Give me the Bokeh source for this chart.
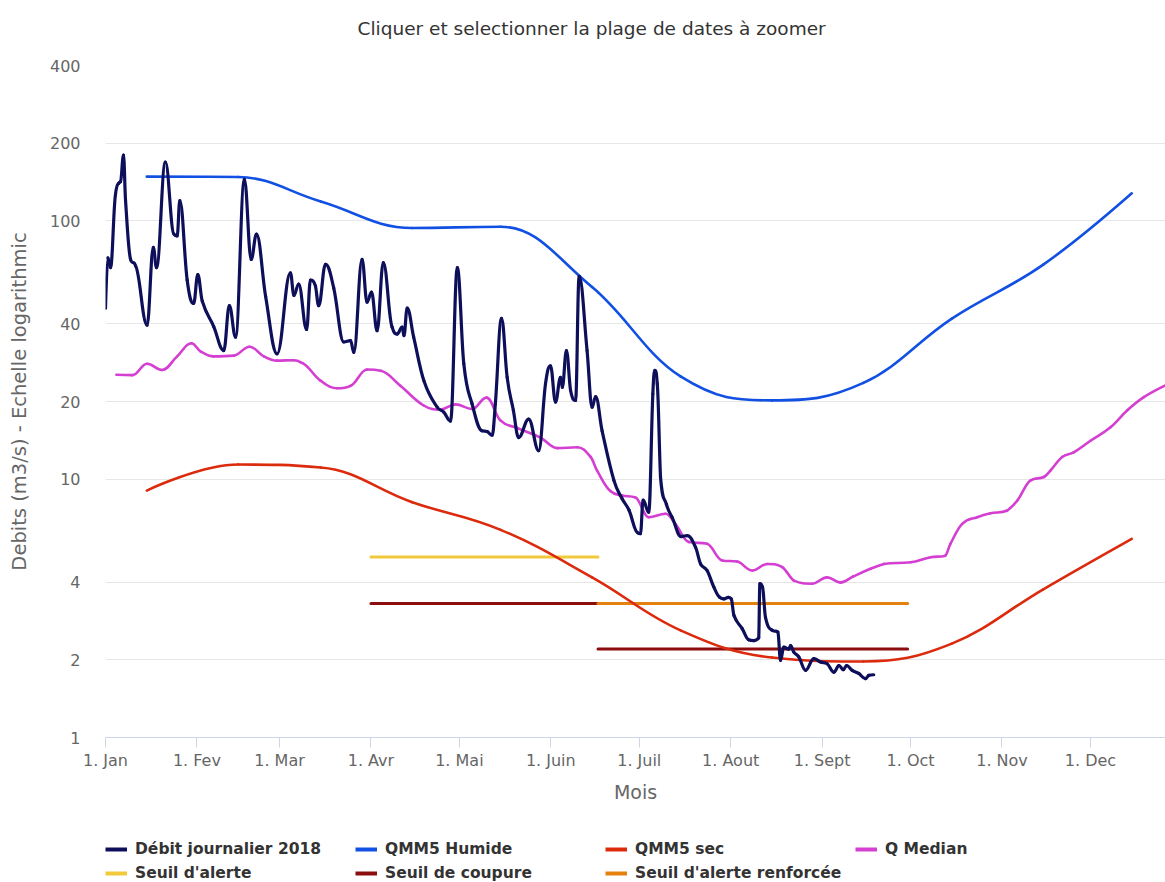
import math
from bokeh.plotting import figure
from bokeh.layouts import column
from bokeh.models import (Range1d, FixedTicker, PrintfTickFormatter,
                          Legend, LegendItem, Label)
from bokeh.embed import file_html
from bokeh.resources import INLINE

# ---------------- data ----------------
MONTH_DAYS = [0, 31, 59, 90, 120, 151, 181, 212, 243, 273, 304, 334]
MONTH_LABELS = ["1. Jan", "1. Fev", "1. Mar", "1. Avr", "1. Mai", "1. Juin",
                "1. Juil", "1. Aout", "1. Sept", "1. Oct", "1. Nov", "1. Dec"]
Y_TICKS = [1, 2, 4, 10, 20, 40, 100, 200, 400]

# Débit journalier 2018 (day of year, m3/s)
debit_day = [0.0, 0.8, 1.7, 3.4, 4.5, 5.1, 6.1, 6.8, 8.5, 10.2, 14.1, 16.2, 17.3,
             20.3, 23.2, 24.3, 25.2, 27.7, 29.9, 31.3, 32.8, 36.7, 40.1, 42.0,
             44.1, 47.1, 49.4, 51.2, 54.3, 58.2, 62.7, 63.9, 65.5, 68.2, 69.5,
             71.2, 72.3, 74.6, 77.4, 80.8, 83.1, 84.2, 87.0, 88.7, 90.2, 92.1,
             94.2, 97.2, 98.9, 100.6, 101.2, 102.3, 104.5, 108.0, 112.5, 114.7,
             117.0, 119.3, 121.5, 124.3, 127.7, 129.4, 131.1, 132.2, 134.3,
             136.2, 138.3, 140.1, 143.5, 146.9, 149.2, 150.9, 152.6, 154.3,
             154.9, 156.3, 157.7, 159.4, 160.6, 163.3, 165.0, 166.2, 168.4,
             172.4, 175.2, 177.5, 180.5, 181.4, 182.3, 184.2, 185.6, 186.3,
             187.1, 188.2, 190.2, 192.2, 195.2, 197.3, 200.1, 201.8, 204.0,
             206.3, 208.3, 209.7, 211.2, 212.2, 213.1, 215.9, 218.1, 219.8,
             221.5, 221.9, 222.8, 223.8, 226.1, 228.0, 228.9, 230.0, 231.7,
             232.3, 233.4, 235.1, 237.4, 240.2, 242.5, 244.7, 247.0, 248.7,
             250.2, 251.3, 253.2, 255.4, 257.7, 258.8, 260.5]
debit_val = [46, 72, 66, 127, 140, 142, 180, 120, 71, 67, 39.5, 79, 66,
             169, 89, 87.5, 120, 59, 48, 62, 49, 39, 31.5, 47,
             35.5, 145, 71, 89, 51, 30.6, 63, 51.5, 57, 38, 59,
             56, 47, 68, 55, 34, 34.4, 31, 71, 48.5, 53, 37.6,
             69, 38.8, 36.5, 38.8, 36, 46, 35.5, 24, 19, 18.2,
             16.8, 66, 28, 19.6, 15.4, 15.3, 14.8, 19.6, 42,
             24.8, 18.5, 14.5, 17.1, 12.9, 23.4, 27.5, 19.9, 24.8,
             22.7, 31.5, 22.1, 20.2, 61, 31.5, 19, 20.9, 15.4,
             9.9, 8.4, 7.6, 6.2, 6.15, 8.3, 7.45, 21.4, 26.4,
             23.4, 10.2, 8.0, 7.1, 6.0, 6.05, 5.45, 4.7, 4.43,
             3.82, 3.49, 3.44, 3.49, 3.44, 2.97, 2.64, 2.39, 2.37,
             2.43, 3.94, 3.82, 2.92, 2.6, 2.56, 1.99, 2.24, 2.2,
             2.27, 2.14, 2.05, 1.82, 2.02, 1.96, 1.93, 1.79, 1.9,
             1.83, 1.9, 1.82, 1.77, 1.69, 1.74, 1.75]

# QMM5 (monthly values, plotted mid-month)
qmm_day = [14, 45, 73, 104, 134, 165, 195, 226, 257, 287, 318, 348]
qmm5_humide = [148.5, 148, 119, 94, 95, 55.5, 25, 20.2, 23.6, 41.9, 67.8, 128]
qmm5_sec = [9.04, 11.4, 11.1, 8.15, 6.37, 4.17, 2.6, 2.04, 1.97, 2.31, 3.75, 5.88]

# Q Median
median_day = [3.7, 9.1, 14.1, 19.2, 24.3, 29.1, 32.2, 36.7, 43.5, 48.9, 53.7,
              58.2, 63.9, 66.1, 72.9, 78.6, 83.1, 88.7, 93.3, 100.0, 107.9,
              113.6, 118.7, 124.3, 129.2, 133.9, 139.6, 147.5, 153.2, 160.0,
              164.5, 166.7, 171.2, 175.2, 179.7, 184.2, 189.9, 193.3, 197.8,
              204.0, 209.1, 214.2, 219.3, 224.4, 229.5, 233.4, 239.6, 244.7,
              249.2, 253.5, 259.4, 263.9, 273.0, 279.8, 284.8, 286.5, 290.5,
              295.6, 300.1, 305.8, 309.2, 313.7, 318.2, 320.4, 324.4, 328.3,
              334.0, 340.8, 346.5, 352.1, 359.4]
median_val = [25.4, 25.3, 28.0, 26.5, 29.9, 33.6, 31.3, 29.9, 30.1, 32.6, 29.9,
              28.8, 28.9, 28.4, 24.1, 22.5, 23.0, 26.6, 26.3, 23.0, 19.3,
              18.6, 19.5, 18.7, 20.7, 16.9, 15.8, 14.5, 13.2, 13.3,
              12.2, 10.8, 9.0, 8.65, 8.5, 7.13, 7.35, 6.7, 5.71,
              5.63, 4.85, 4.8, 4.43, 4.7, 4.57, 4.05, 3.94, 4.17,
              3.98, 4.2, 4.5, 4.7, 4.77, 4.99, 5.06, 5.62, 6.72,
              7.13, 7.38, 7.57, 8.27, 9.9, 10.2, 10.8, 12.2, 12.7,
              14.1, 15.9, 18.5, 20.8, 23.1]

# thresholds (start day, end day, value)
alerte_start, alerte_end, alerte_val = [90], [167], [5.0]
coupure_start, coupure_end, coupure_val = [90, 167], [167, 272], [3.3, 2.2]
renforcee_start, renforcee_end, renforcee_val = [167], [272], [3.3]

SERIES_NAMES = ["Débit journalier 2018", "QMM5 Humide", "QMM5 sec", "Q Median",
                "Seuil d'alerte", "Seuil de coupure", "Seuil d'alerte renforcée"]
TITLE = "Cliquer et selectionner la plage de dates à zoomer"

C_DEBIT = "#0e0f5b"
C_HUMIDE = "#1150e3"
C_SEC = "#dc2a0d"
C_MEDIAN = "#d43fd2"
C_ALERTE = "#f1c93a"
C_COUPURE = "#8c0d0d"
C_RENF = "#e5820f"
COLORS = [C_DEBIT, C_HUMIDE, C_SEC, C_MEDIAN, C_ALERTE, C_COUPURE, C_RENF]

FONT = "DejaVu Sans"


def spline(xs, vals):
    """Highcharts-like spline: bezier control points in (x, log10 y) space."""
    ys = [math.log10(v) for v in vals]
    n = len(xs)
    sm = 1.5
    den = sm + 1
    left = [(xs[i], ys[i]) for i in range(n)]
    right = [(xs[i], ys[i]) for i in range(n)]
    for i in range(1, n - 1):
        px, py = xs[i], ys[i]
        lx, ly = xs[i - 1], ys[i - 1]
        nx, ny = xs[i + 1], ys[i + 1]
        lcx = (sm * px + lx) / den
        lcy = (sm * py + ly) / den
        rcx = (sm * px + nx) / den
        rcy = (sm * py + ny) / den
        if rcx != lcx:
            corr = ((rcy - lcy) * (rcx - px)) / (rcx - lcx) + py - rcy
            lcy += corr
            rcy += corr
        if lcy > ly and lcy > py:
            lcy = max(ly, py)
            rcy = 2 * py - lcy
        elif lcy < ly and lcy < py:
            lcy = min(ly, py)
            rcy = 2 * py - lcy
        if rcy > ny and rcy > py:
            rcy = max(ny, py)
            lcy = 2 * py - rcy
        elif rcy < ny and rcy < py:
            rcy = min(ny, py)
            lcy = 2 * py - rcy
        left[i] = (lcx, lcy)
        right[i] = (rcx, rcy)
    d = dict(x0=[], y0=[], x1=[], y1=[], cx0=[], cy0=[], cx1=[], cy1=[])
    for i in range(1, n):
        d["x0"].append(xs[i - 1]); d["y0"].append(vals[i - 1])
        d["x1"].append(xs[i]); d["y1"].append(vals[i])
        d["cx0"].append(right[i - 1][0]); d["cy0"].append(10 ** right[i - 1][1])
        d["cx1"].append(left[i][0]); d["cy1"].append(10 ** left[i][1])
    return d


def blank(height):
    f = figure(width=1165, height=height, output_backend="svg",
               toolbar_location=None, x_range=Range1d(0, 1), y_range=Range1d(0, 1),
               x_axis_location=None, y_axis_location=None,
               min_border=0, min_border_left=0, min_border_right=0,
               min_border_top=0, min_border_bottom=0)
    f.outline_line_color = None
    f.xgrid.visible = False
    f.ygrid.visible = False
    f.background_fill_color = "white"
    f.border_fill_color = "white"
    return f


# ---------------- title strip ----------------
pt = blank(40)
pt.add_layout(Label(x=252, y=12, x_units="screen", y_units="screen", text=TITLE,
                    text_font=FONT, text_font_size="18.5px", text_color="#333333",
                    text_align="left", text_baseline="middle"))

# ---------------- main chart ----------------
X_END = (1165 - 105) / 2.949

p = figure(width=1165, height=780, output_backend="svg", toolbar_location=None,
           x_range=Range1d(0, X_END), y_range=Range1d(1, 400),
           y_axis_type="log", min_border_left=105, min_border_right=0,
           min_border_top=25, min_border_bottom=83)
p.outline_line_color = None
p.background_fill_color = "white"
p.border_fill_color = "white"

xa = p.xaxis[0]
xa.ticker = FixedTicker(ticks=MONTH_DAYS)
xa.major_label_overrides = {d: l for d, l in zip(MONTH_DAYS, MONTH_LABELS)}
xa.axis_line_color = "#ccd6eb"
xa.major_tick_line_color = "#ccd6eb"
xa.major_tick_out = 10
xa.major_tick_in = 0
xa.minor_tick_line_color = None
xa.major_label_text_font = FONT
xa.major_label_text_font_size = "16px"
xa.major_label_text_color = "#666666"
xa.major_label_standoff = 3
xa.axis_label = "Mois"
xa.axis_label_text_font = FONT
xa.axis_label_text_font_size = "19px"
xa.axis_label_text_font_style = "normal"
xa.axis_label_text_color = "#666666"
xa.axis_label_standoff = 8

ya = p.yaxis[0]
ya.ticker = FixedTicker(ticks=Y_TICKS)
ya.formatter = PrintfTickFormatter(format="%d")
ya.axis_line_color = None
ya.major_tick_line_color = None
ya.minor_tick_line_color = None
ya.major_tick_out = 0
ya.major_tick_in = 0
ya.major_label_text_font = FONT
ya.major_label_text_font_size = "16px"
ya.major_label_text_color = "#666666"
ya.major_label_standoff = 25
ya.axis_label = "Debits (m3/s) - Echelle logarithmic"
ya.axis_label_text_font = FONT
ya.axis_label_text_font_size = "19.5px"
ya.axis_label_text_font_style = "normal"
ya.axis_label_text_color = "#666666"
ya.axis_label_standoff = 16

p.xgrid.visible = False
p.ygrid.grid_line_color = "#e6e6e6"
p.ygrid.grid_line_width = 1
p.ygrid.ticker = FixedTicker(ticks=Y_TICKS)

# thresholds
p.segment(x0=alerte_start, x1=alerte_end, y0=alerte_val, y1=alerte_val,
          line_color=C_ALERTE, line_width=3, line_cap="round")
p.segment(x0=coupure_start, x1=coupure_end, y0=coupure_val, y1=coupure_val,
          line_color=C_COUPURE, line_width=3, line_cap="round")
p.segment(x0=renforcee_start, x1=renforcee_end, y0=renforcee_val, y1=renforcee_val,
          line_color=C_RENF, line_width=3, line_cap="round")

# spline series
for xs, vs, col, w in [(qmm_day, qmm5_humide, C_HUMIDE, 2.6),
                       (qmm_day, qmm5_sec, C_SEC, 2.6),
                       (median_day, median_val, C_MEDIAN, 2.6),
                       (debit_day, debit_val, C_DEBIT, 3.2)]:
    p.bezier(line_color=col, line_width=w, line_cap="round", **spline(xs, vs))

# ---------------- legend strip ----------------
pl = blank(62)
items = []
for lab, col in zip(SERIES_NAMES, COLORS):
    r = pl.line(x=[float("nan")], y=[float("nan")], line_color=col, line_width=4)
    items.append(LegendItem(label=lab, renderers=[r]))

legend = Legend(items=items, location=(0, 0), orientation="horizontal",
                ncols=4, glyph_width=22, glyph_height=16, label_standoff=8,
                label_width=214, label_height=16, spacing=6, padding=0,
                margin=0, border_line_alpha=0, background_fill_alpha=0,
                label_text_font=FONT, label_text_font_size="15.5px",
                label_text_font_style="bold", label_text_color="#333333")
pl.add_layout(legend, "center")

layout = column(pt, p, pl, spacing=0)
open("out.html", "w").write(file_html(layout, INLINE))
